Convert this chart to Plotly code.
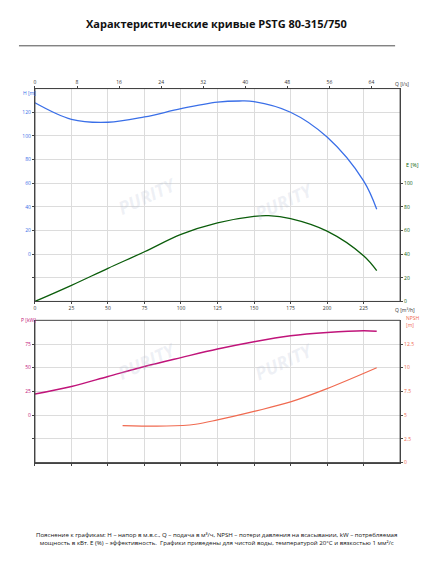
import plotly.graph_objects as go

q_h = [0, 25, 50, 75, 100, 125, 140, 150, 175, 200, 225, 234]
h = [128, 114, 111.5, 116, 123, 128.5, 129.5, 129, 120, 99, 62, 38]
q_e = [0, 25, 50, 75, 100, 125, 150, 160, 175, 200, 225, 234]
e = [0, 13.6, 28, 42, 56.7, 66.4, 71.9, 72.5, 70, 59.4, 38.6, 26]
q_p = [0, 25, 50, 75, 100, 125, 150, 175, 200, 225, 234]
p = [22.3, 30.3, 40.8, 51.3, 60.7, 69.8, 77.5, 83.7, 87.2, 89, 88.5]
q_n = [60, 90, 110, 125, 150, 175, 200, 234]
npsh = [3.9, 3.85, 4.05, 4.5, 5.4, 6.4, 7.8, 10.0]
q_ticks = [0, 25, 50, 75, 100, 125, 150, 175, 200, 225]
ls_ticks = [0, 8, 16, 24, 32, 40, 48, 56, 64]

W, H = 433, 567
OFF = 8
def px(x): return (x - OFF) / W
def py(y): return 1 - (y - OFF) / H

X0, X1 = px(34), px(400)
T0, T1 = py(303), py(89)
B0, B1 = py(465), py(322)
tf = dict(size=5, color="#333")
fr = "#444"
grid = "#dcdcdc"

fig = go.Figure()
fig.add_trace(go.Scatter(x=q_h, y=h, mode="lines", line=dict(color="#3a6fe8", width=1.3, shape="spline"), xaxis="x", yaxis="y"))
fig.add_trace(go.Scatter(x=q_e, y=e, mode="lines", line=dict(color="#0b5d0b", width=1.3, shape="spline"), xaxis="x", yaxis="y2"))
fig.add_trace(go.Scatter(x=[0, 250 / 3.6], y=[0, 0], mode="lines", line=dict(width=0), hoverinfo="skip", xaxis="x3", yaxis="y"))
fig.add_trace(go.Scatter(x=q_p, y=p, mode="lines", line=dict(color="#c0147a", width=1.5, shape="spline"), xaxis="x4", yaxis="y4"))
fig.add_trace(go.Scatter(x=q_n, y=npsh, mode="lines", line=dict(color="#f06a50", width=1.1, shape="spline"), xaxis="x4", yaxis="y5"))

ax = dict(showline=True, linecolor=fr, linewidth=1, ticks="outside", ticklen=2, tickcolor=fr, tickfont=tf, zeroline=False)
fig.update_layout(
    width=W, height=H, margin=dict(l=0, r=0, t=0, b=0), showlegend=False,
    paper_bgcolor="white", plot_bgcolor="white",
    xaxis=dict(ax, domain=[X0, X1], range=[0, 250], tickvals=q_ticks, anchor="y",
               showgrid=True, gridcolor=grid),
    xaxis3=dict(ax, domain=[X0, X1], range=[0, 250 / 3.6], tickvals=ls_ticks, overlaying="x", side="top", anchor="y", showgrid=False),
    yaxis=dict(ax, domain=[T0, T1], range=[-40, 140], tickvals=[-20, 0, 20, 40, 60, 80, 100, 120],
               ticktext=["", "0", "20", "40", "60", "80", "100", "120"], showgrid=True, gridcolor=grid,
               tickfont=dict(size=5, color="#3a6fe8"), anchor="x"),
    yaxis2=dict(ax, domain=[T0, T1], range=[0, 180], tickvals=[0, 20, 40, 60, 80, 100], overlaying="y", side="right",
                anchor="x", showgrid=False, tickfont=dict(size=5, color="#0b5d0b")),
    xaxis4=dict(ax, domain=[X0, X1], range=[0, 250], tickvals=q_ticks, anchor="y4",
                showgrid=True, gridcolor=grid, showticklabels=False),
    yaxis4=dict(ax, domain=[B0, B1], range=[-50, 100], tickvals=[-25, 0, 25, 50, 75],
                ticktext=["", "0", "25", "50", "75"], showgrid=True, gridcolor=grid, anchor="x4",
                tickfont=dict(size=5, color="#c0147a")),
    yaxis5=dict(ax, domain=[B0, B1], range=[0, 15], tickvals=[0, 2.5, 5, 7.5, 10, 12.5], overlaying="y4", side="right",
                anchor="x4", showgrid=False, tickfont=dict(size=5, color="#f06a50")),
)
for y0, y1 in [(T0, T1), (B0, B1)]:
    fig.add_shape(type="rect", xref="paper", yref="paper", x0=X0, x1=X1, y0=y0, y1=y1, line=dict(color=fr, width=1))

ann = [
    (px(216), py(14), "<b>Характеристические кривые PSTG 80-315/750</b>", 11, "#111", "center"),
    (px(20), py(88), "H [m]", 5, "#3a6fe8", "left"),
    (px(393), py(312), "Q [m³/h]", 5, "#333", "left"),
    (px(393), py(79), "Q [l/s]", 5, "#333", "left"),
    (px(404), py(160), "E [%]", 5.5, "#0b5d0b", "left"),
    (px(18), py(322), "P [kW]", 5, "#c0147a", "left"),
    (px(404), py(323), "NPSH<br>[m]", 5, "#f06a50", "left"),
    (px(216), py(552), "Пояснение к графикам: H – напор в м.в.с., Q – подача в м³/ч, NPSH – потери давления на всасывании, kW – потребляемая<br>мощность в кВт. E (%) – эффективность.  Графики приведены для чистой воды, температурой 20°С и вязкостью 1 мм²/с", 6.1, "#111", "center"),
]
for x, y, t, s, c, a in ann:
    fig.add_annotation(x=x, y=y, xref="paper", yref="paper", text=t, showarrow=False,
                       font=dict(size=s, color=c, family="Open Sans"), xanchor=a, align=a)
for wx, wy in [(110, 170), (320, 175), (110, 390), (320, 390)]:
    fig.add_annotation(x=px(wx), y=py(wy), xref="paper", yref="paper", text="<b><i>PURITY</i></b>", showarrow=False,
                       font=dict(size=18, color="rgba(180,190,210,0.22)"), textangle=-25)
fig.add_shape(type="line", xref="paper", yref="paper", x0=px(18), x1=px(395), y0=py(46), y1=py(46), line=dict(color="#222", width=0.8))
fig.write_html("out.html")
